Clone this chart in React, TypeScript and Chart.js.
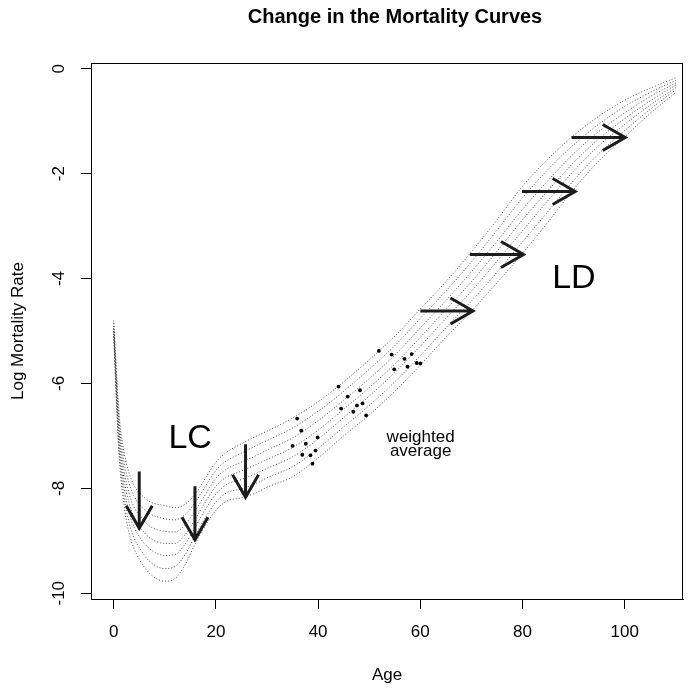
import React, { useEffect, useRef } from 'react';
import { Chart, registerables } from 'chart.js';

Chart.register(...registerables);

const FONT = '"Liberation Sans", Arial, Helvetica, sans-serif';

// Ages at which the mortality curves are read
const AGES = [0, 1, 2, 3, 4, 5, 7, 10, 12, 14, 16, 18, 20, 22, 25, 28, 30, 35, 40, 45, 50, 55, 60, 65, 70, 75, 80, 85, 90, 95, 100, 105, 110];

// Log mortality curves, earliest (top) to latest (bottom)
const CURVE_1 = [-4.80, -6.50, -7.30, -7.70, -7.95, -8.08, -8.25, -8.33, -8.37, -8.30, -8.10, -7.80, -7.50, -7.32, -7.15, -7.00, -6.91, -6.66, -6.35, -5.97, -5.55, -5.10, -4.58, -4.06, -3.49, -2.88, -2.24, -1.72, -1.27, -0.90, -0.60, -0.37, -0.17];
const CURVE_2 = [-4.85, -6.64, -7.47, -7.90, -8.15, -8.30, -8.48, -8.58, -8.60, -8.50, -8.26, -7.95, -7.66, -7.48, -7.33, -7.18, -7.09, -6.85, -6.53, -6.15, -5.73, -5.28, -4.76, -4.24, -3.68, -3.08, -2.46, -1.92, -1.45, -1.05, -0.72, -0.45, -0.22];
const CURVE_3 = [-4.90, -6.77, -7.64, -8.09, -8.36, -8.51, -8.72, -8.82, -8.83, -8.69, -8.42, -8.11, -7.81, -7.64, -7.50, -7.37, -7.27, -7.04, -6.71, -6.32, -5.91, -5.46, -4.94, -4.42, -3.87, -3.29, -2.68, -2.13, -1.62, -1.19, -0.84, -0.53, -0.27];
const CURVE_4 = [-4.95, -6.90, -7.80, -8.28, -8.55, -8.72, -8.94, -9.05, -9.05, -8.88, -8.58, -8.25, -7.96, -7.79, -7.67, -7.54, -7.45, -7.22, -6.89, -6.49, -6.08, -5.63, -5.12, -4.59, -4.06, -3.48, -2.88, -2.32, -1.79, -1.33, -0.95, -0.61, -0.31];
const CURVE_5 = [-5.00, -7.03, -7.96, -8.46, -8.74, -8.92, -9.15, -9.28, -9.26, -9.06, -8.73, -8.39, -8.11, -7.93, -7.83, -7.71, -7.62, -7.40, -7.06, -6.65, -6.24, -5.79, -5.29, -4.76, -4.24, -3.67, -3.09, -2.51, -1.95, -1.46, -1.06, -0.69, -0.36];
const CURVE_6 = [-5.05, -7.16, -8.13, -8.65, -8.95, -9.13, -9.39, -9.53, -9.49, -9.26, -8.89, -8.55, -8.26, -8.09, -8.01, -7.90, -7.80, -7.59, -7.24, -6.83, -6.42, -5.97, -5.47, -4.94, -4.43, -3.88, -3.30, -2.72, -2.13, -1.61, -1.18, -0.77, -0.40];
const CURVE_7 = [-5.10, -7.30, -8.30, -8.85, -9.15, -9.35, -9.62, -9.77, -9.72, -9.45, -9.05, -8.70, -8.42, -8.25, -8.18, -8.08, -7.98, -7.78, -7.42, -7.00, -6.60, -6.15, -5.65, -5.12, -4.62, -4.08, -3.52, -2.92, -2.30, -1.75, -1.30, -0.85, -0.45];
const CURVES = [CURVE_1, CURVE_2, CURVE_3, CURVE_4, CURVE_5, CURVE_6, CURVE_7];

// "weighted average" points
const AVG_AGES = [51.9, 54.4, 58.3, 56.9, 59.3, 60.0, 54.9, 57.5, 44.0, 48.2, 45.8, 48.7, 47.6, 44.5, 46.9, 49.4, 35.9, 36.7, 39.9, 35.0, 37.6, 39.5, 36.9, 38.5, 38.9];
const AVG_RATES = [-5.38, -5.45, -5.44, -5.53, -5.61, -5.62, -5.73, -5.68, -6.06, -6.13, -6.25, -6.38, -6.42, -6.48, -6.54, -6.61, -6.67, -6.90, -7.03, -7.19, -7.15, -7.28, -7.36, -7.37, -7.53];

// LC arrows (vertical): age, from rate, to rate
const LC_ARROW_AGES = [5.0, 15.9, 25.8];
const LC_ARROW_FROM = [-7.68, -7.96, -7.16];
const LC_ARROW_TO = [-8.76, -8.98, -8.17];

// LD arrows (horizontal): rate, from age, to age
const LD_ARROW_RATES = [-4.62, -3.54, -2.34, -1.31];
const LD_ARROW_FROM = [60.0, 69.7, 79.9, 89.6];
const LD_ARROW_TO = [70.3, 80.2, 90.3, 100.1];

// Annotations: text, age, rate
const NOTE_TEXTS = ['LC', 'LD', 'weighted', 'average'];
const NOTE_AGES = [14.96, 90.06, 60.06, 60.06];
const NOTE_RATES = [-7.06, -4.01, -7.03, -7.29];
const NOTE_SIZES = [34, 34, 17, 17];

const X_MIN = -4.44;
const X_MAX = 111.4;
const Y_MIN = -10.11;
const Y_MAX = 0.11;

const TITLE = 'Change in the Mortality Curves';

function drawArrow(ctx: CanvasRenderingContext2D, x0: number, y0: number, x1: number, y1: number) {
  const len = 26;
  const ang = Math.PI / 6;
  const a = Math.atan2(y1 - y0, x1 - x0);
  ctx.beginPath();
  ctx.moveTo(x0, y0);
  ctx.lineTo(x1, y1);
  ctx.moveTo(x1 - len * Math.cos(a - ang), y1 - len * Math.sin(a - ang));
  ctx.lineTo(x1, y1);
  ctx.lineTo(x1 - len * Math.cos(a + ang), y1 - len * Math.sin(a + ang));
  ctx.stroke();
}

const overlayPlugin = {
  id: 'overlay',
  afterDatasetsDraw(chart: any) {
    const { ctx, chartArea: ca } = chart;
    const xs = chart.scales.x;
    const ys = chart.scales.y;
    ctx.save();
    // box
    ctx.strokeStyle = '#000';
    ctx.lineWidth = 1;
    ctx.strokeRect(Math.round(ca.left) + 0.5, Math.round(ca.top) + 0.5, Math.round(ca.right - ca.left) - 1, Math.round(ca.bottom - ca.top));

    // arrows
    ctx.strokeStyle = '#1c1c1c';
    ctx.lineWidth = 3;
    ctx.lineCap = 'butt';
    ctx.lineJoin = 'miter';
    LC_ARROW_AGES.forEach((age, i) => {
      const px = xs.getPixelForValue(age);
      drawArrow(ctx, px, ys.getPixelForValue(LC_ARROW_FROM[i]), px, ys.getPixelForValue(LC_ARROW_TO[i]));
    });
    LD_ARROW_RATES.forEach((r, i) => {
      const py = ys.getPixelForValue(r);
      drawArrow(ctx, xs.getPixelForValue(LD_ARROW_FROM[i]), py, xs.getPixelForValue(LD_ARROW_TO[i]), py);
    });

    // annotations
    ctx.fillStyle = '#000';
    ctx.textAlign = 'center';
    ctx.textBaseline = 'middle';
    NOTE_TEXTS.forEach((t, i) => {
      ctx.font = `${NOTE_SIZES[i]}px ${FONT}`;
      ctx.fillText(t, xs.getPixelForValue(NOTE_AGES[i]), ys.getPixelForValue(NOTE_RATES[i]));
    });

    // title
    ctx.font = `bold 20px ${FONT}`;
    ctx.fillText(TITLE, 395, 17);

    // y tick labels (rotated, R style)
    ctx.font = `17px ${FONT}`;
    ys.ticks.forEach((t: any) => {
      const py = ys.getPixelForValue(t.value);
      ctx.save();
      ctx.translate(58, py);
      ctx.rotate(-Math.PI / 2);
      ctx.fillText(String(t.value), 0, 1);
      ctx.restore();
    });
    ctx.restore();
  },
};

export default function App() {
  const ref = useRef<HTMLCanvasElement | null>(null);
  useEffect(() => {
    if (!ref.current) return;
    const curveSets = CURVES.map((c) => ({
      type: 'line' as const,
      data: AGES.map((a, i) => ({ x: a, y: c[i] })),
      borderColor: 'rgba(50,50,50,0.85)',
      borderWidth: 1,
      borderDash: [1, 2],
      pointRadius: 0,
      fill: false,
      cubicInterpolationMode: 'monotone' as const,
    }));
    const chart = new Chart(ref.current, {
      type: 'scatter',
      data: {
        datasets: [
          ...curveSets,
          {
            type: 'scatter',
            data: AVG_AGES.map((a, i) => ({ x: a, y: AVG_RATES[i] })),
            backgroundColor: '#000',
            borderColor: '#000',
            borderWidth: 0,
            pointRadius: 1.9,
            showLine: false,
          },
        ] as any,
      },
      options: {
        responsive: false,
        animation: false,
        events: [],
        layout: { padding: { top: 63, right: 6, left: 0, bottom: 0 } },
        plugins: { legend: { display: false }, tooltip: { enabled: false }, title: { display: false } },
        scales: {
          x: {
            type: 'linear',
            min: X_MIN,
            max: X_MAX,
            afterFit: (s: any) => { s.height = 89; },
            grid: { display: true, drawOnChartArea: false, drawTicks: true, tickLength: 10, color: '#000', lineWidth: 1 },
            border: { display: true, color: '#000', width: 1 },
            ticks: { stepSize: 20, includeBounds: false, padding: 13, color: '#000', font: { family: FONT, size: 17 }, maxRotation: 0, autoSkip: false },
            title: { display: true, text: 'Age', color: '#000', font: { family: FONT, size: 17 }, padding: { top: 0, bottom: 2 } },
          },
          y: {
            type: 'linear',
            min: Y_MIN,
            max: Y_MAX,
            afterFit: (s: any) => { s.width = 91; },
            grid: { display: true, drawOnChartArea: false, drawTicks: true, tickLength: 10, color: '#000', lineWidth: 1 },
            border: { display: true, color: '#000', width: 1 },
            ticks: { stepSize: 2, includeBounds: false, display: false },
            title: { display: true, text: 'Log Mortality Rate', color: '#000', font: { family: FONT, size: 17 }, padding: { top: 8, bottom: 0 } },
          },
        },
      },
      plugins: [overlayPlugin],
    } as any);
    return () => chart.destroy();
  }, []);
  return (
    <div style={{ position: 'fixed', left: 0, top: 0, width: 689, height: 688, background: '#fff' }}>
      <canvas ref={ref} width={689} height={688} style={{ display: 'block' }} />
    </div>
  );
}
